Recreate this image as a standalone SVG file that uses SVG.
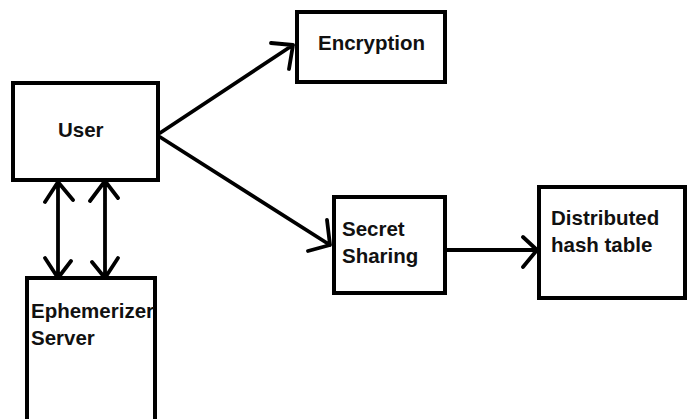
<svg xmlns="http://www.w3.org/2000/svg" width="687" height="419" viewBox="0 0 687 419">
<style>
.box{fill:#fff;stroke:#000;stroke-width:4}
.lbl{font-family:"Liberation Sans",Arial,sans-serif;font-weight:bold;font-size:20.5px;fill:#111}
.ln{fill:none;stroke:#000;stroke-width:3.8;stroke-linecap:round;stroke-linejoin:round}
</style>
<rect width="687" height="419" fill="#fff"/>
<g id="connectors">
<path class="ln" d="M160,133 L293,45 M271,43 L293,45 L289,69"/>
<path class="ln" d="M160,137 L330,245 M327,220 L330,245 L308,251"/>
<path class="ln" d="M447,250 L537,250 M523,237 L537,250 L523,267"/>
<path class="ln" d="M58,182 L58,278 M45,202 L58,182 L73,200 M45,258 L58,278 L71,261"/>
<path class="ln" d="M105,181 L105,278 M90,201 L105,181 L118,198 M92,262 L105,278 L118,258"/>
</g>
<g id="user">
<rect class="box" x="13" y="83" width="145" height="97"/>
<text class="lbl" x="58" y="137">User</text>
</g>
<g id="encryption">
<rect class="box" x="297" y="12" width="148" height="70"/>
<text class="lbl" x="318" y="50">Encryption</text>
</g>
<g id="secret-sharing">
<rect class="box" x="334" y="197" width="111" height="96"/>
<text class="lbl" x="342" y="236">Secret</text>
<text class="lbl" x="342" y="263">Sharing</text>
</g>
<g id="dht">
<rect class="box" x="539" y="187" width="146" height="111"/>
<text class="lbl" x="551" y="225">Distributed</text>
<text class="lbl" x="551" y="252">hash table</text>
</g>
<g id="ephemerizer">
<rect class="box" x="27" y="278" width="128" height="145"/>
<text class="lbl" x="31" y="318">Ephemerizer</text>
<text class="lbl" x="31" y="345">Server</text>
</g>
</svg>
